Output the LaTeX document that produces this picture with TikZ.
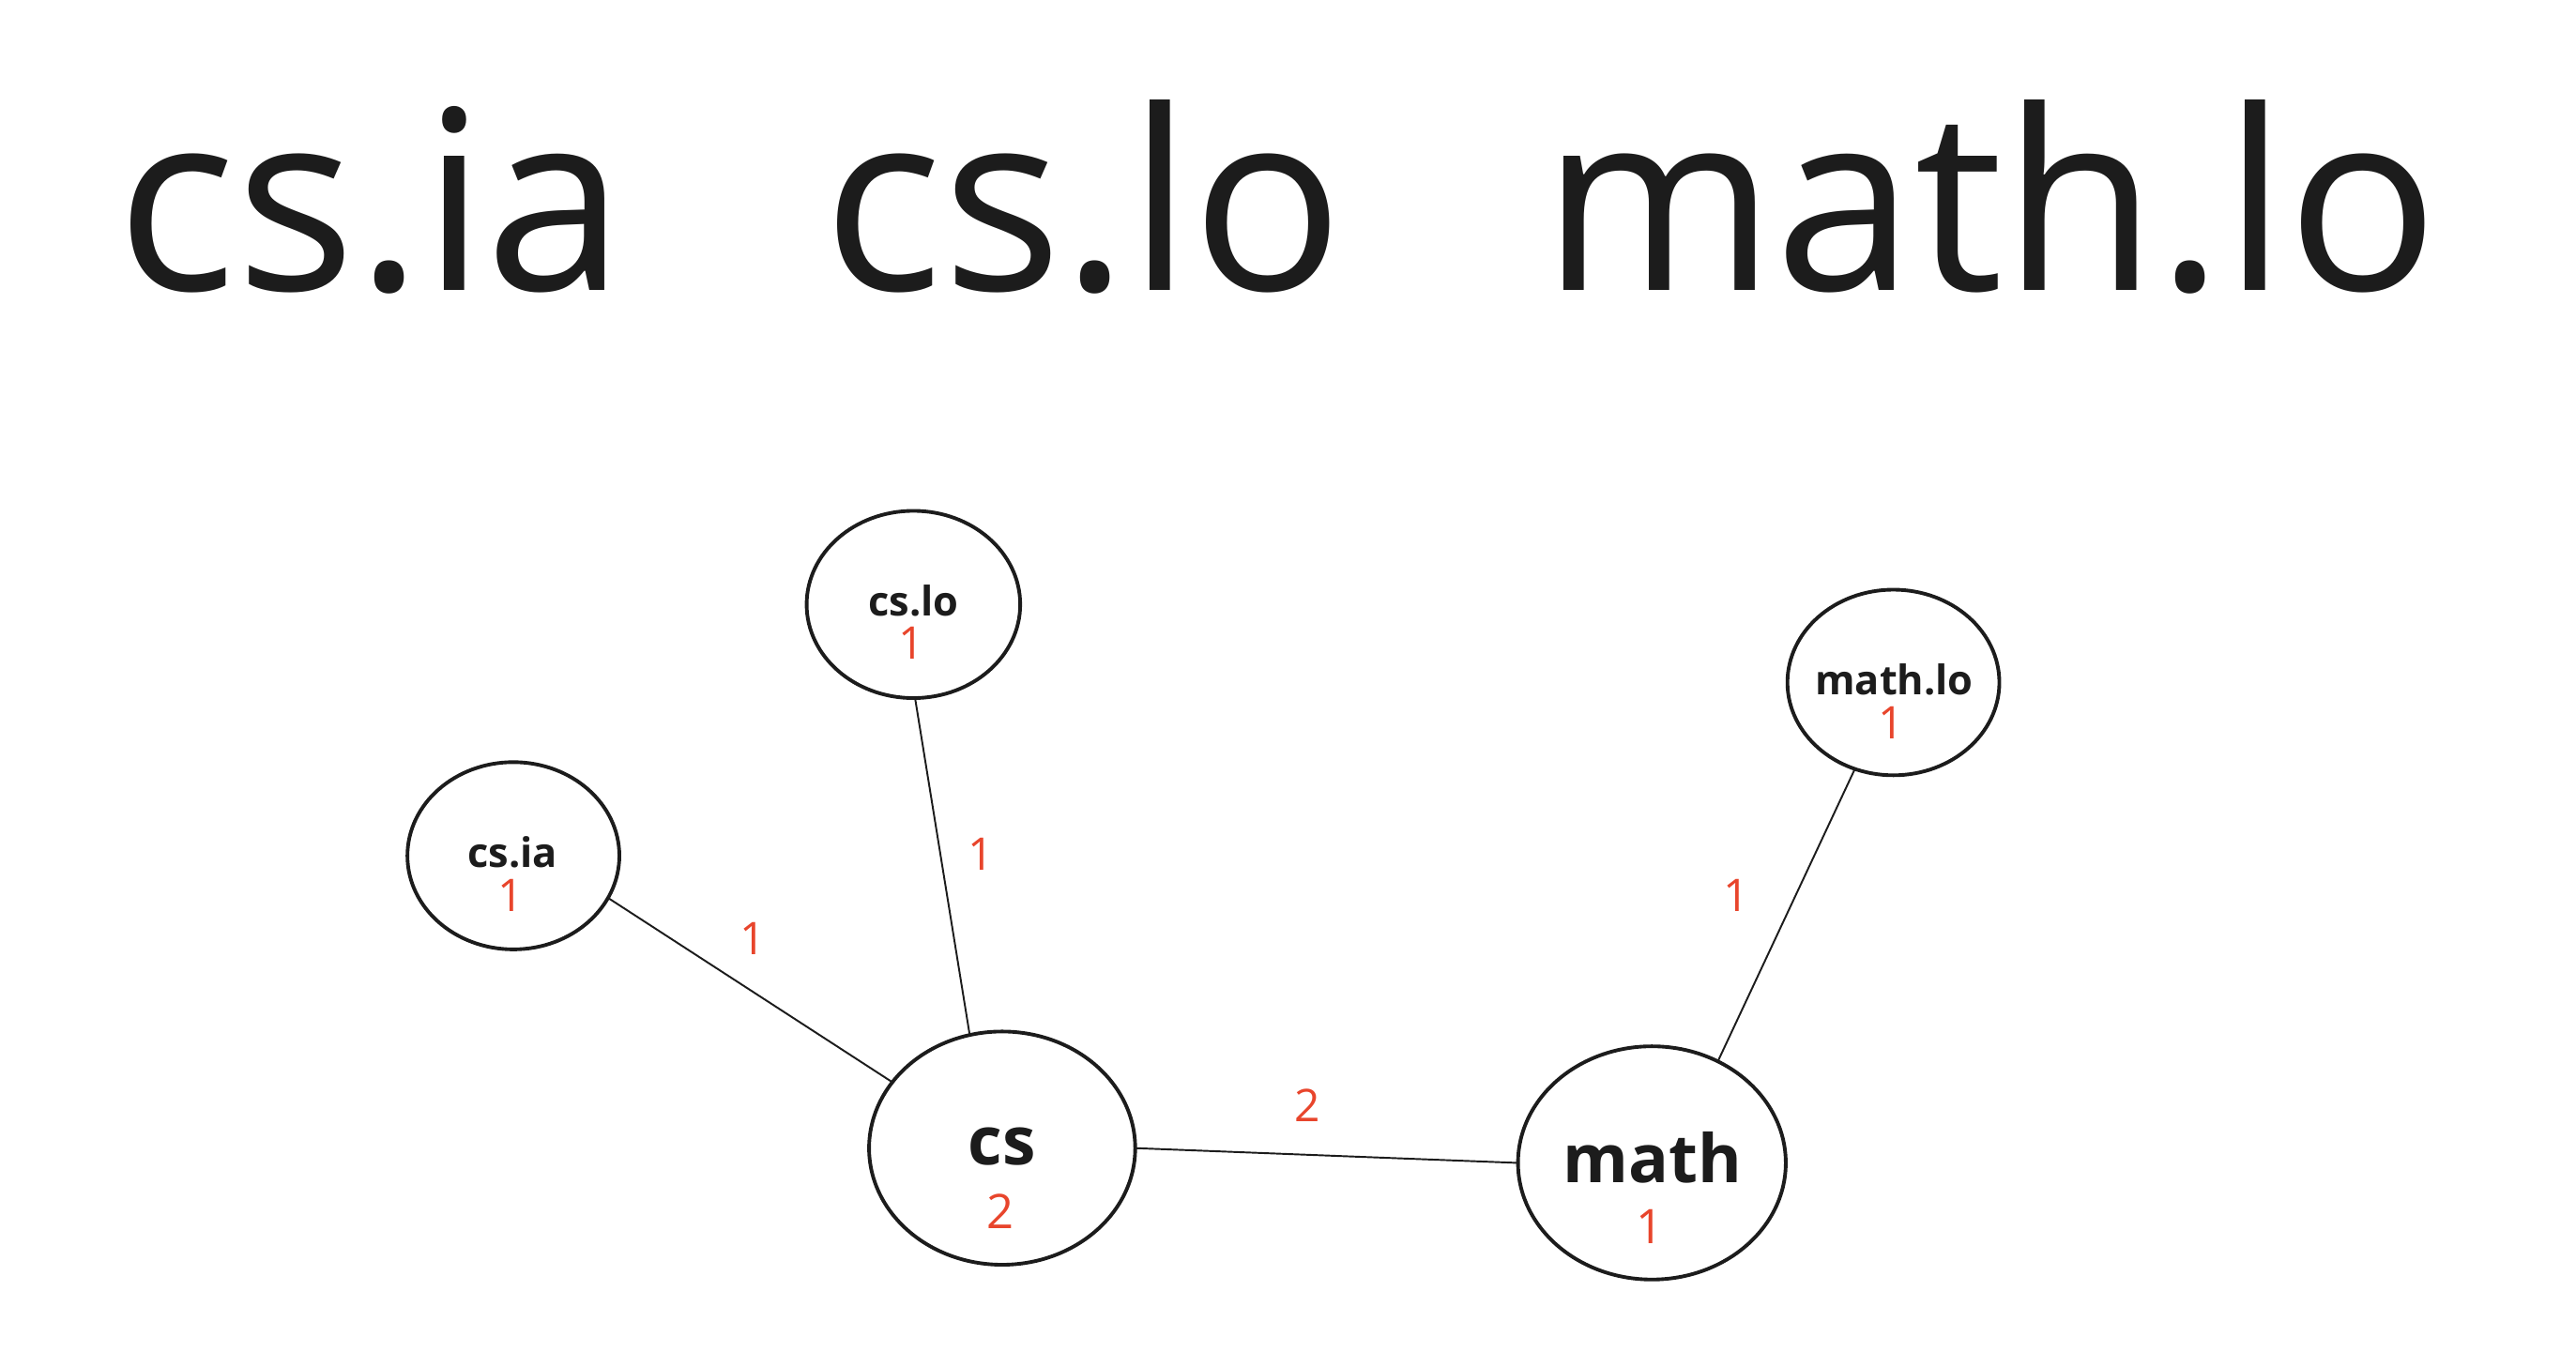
\documentclass[tikz,border=0pt]{standalone}
\usepackage{fontspec}
\setmainfont{Open Sans}
\usetikzlibrary{shapes.geometric}
\definecolor{ink}{HTML}{1C1C1C}
\definecolor{numred}{HTML}{E8452C}
\begin{document}
\begin{tikzpicture}[x=0.4966pt,y=-0.4966pt,
  bubble/.style={ellipse,draw=ink,line width=1.1pt,inner sep=0pt,outer sep=0pt},
  title/.style={anchor=base,inner sep=0pt,text=ink,font=\fontsize{75.8}{80}\selectfont},
  smallname/.style={anchor=base,inner sep=0pt,text=ink,font=\bfseries\fontsize{12.3}{14}\selectfont},
  bigname/.style={anchor=base,inner sep=0pt,text=ink,font=\bfseries\fontsize{20.2}{24}\selectfont},
  num/.style={anchor=base,inner sep=0pt,text=numred,font=\fontsize{13.6}{15}\selectfont},
  bignum/.style={anchor=base,inner sep=0pt,text=numred,font=\fontsize{14.4}{16}\selectfont},
  edge/.style={draw=ink,line width=0.55pt}]
\useasboundingbox (0,0) rectangle (1568,832);
% titles
\node[title] (t1) at (226,177) {cs.ia};
\node[title] (t2) at (659.5,177) {cs.lo};
\node[title] (t3) at (1211.5,177) {math.lo};
% bubbles
\node[bubble,minimum width=129*0.4966pt,minimum height=114*0.4966pt] (csia) at (312.5,521) {};
\node[bubble,minimum width=130*0.4966pt,minimum height=114*0.4966pt] (cslo) at (556,368) {};
\node[bubble,minimum width=129*0.4966pt,minimum height=113*0.4966pt] (mathlo) at (1152.5,415.5) {};
\node[bubble,minimum width=162*0.4966pt,minimum height=142*0.4966pt] (cs) at (610,699) {};
\node[bubble,minimum width=163*0.4966pt,minimum height=142*0.4966pt] (math) at (1005.5,708) {};
% node texts
\node[smallname] (csianame) at (312,528) {cs.ia};
\node[num] (csianum) at (311,555) {1};
\node[smallname] (csloname) at (556,375) {cs.lo};
\node[num] (cslonum) at (555,401) {1};
\node[smallname] (mathloname) at (1153,423) {math.lo};
\node[num] (mathlonum) at (1151,450) {1};
\node[bigname] (csname) at (610,709) {cs};
\node[bignum] (csnum) at (609,748) {2};
\node[bigname] (mathname) at (1006,720) {math};
\node[bignum] (mathnum) at (1004,757) {1};
% edges
\draw[edge] (csia.-24.4) -- (cs.149.9);
\draw[edge] (cslo.-89) -- (cs.106.7);
\draw[edge] (mathlo.-114.1) -- (math.57.9);
\draw[edge] (cs.0) -- (math.180);
% edge labels
\node[num] (e1) at (458,581) {1};
\node[num] (e2) at (597,530) {1};
\node[num] (e3) at (1057,555) {1};
\node[num] (e4) at (796,683) {2};
\end{tikzpicture}
\end{document}
